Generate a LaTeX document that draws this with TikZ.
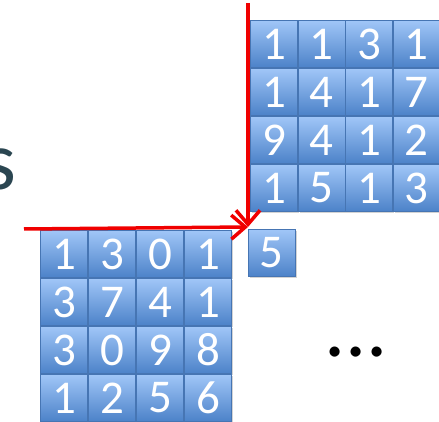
\documentclass[tikz,border=0pt]{standalone}
\usepackage{fontspec}
\setmainfont{Carlito}
\usetikzlibrary{arrows.meta,positioning,shadows}
\definecolor{celltop}{HTML}{A0C6F7}
\definecolor{cellbot}{HTML}{4C82C9}
\definecolor{cellrule}{HTML}{4675B3}
\definecolor{arrowred}{HTML}{F00000}
\definecolor{titleink}{HTML}{2B4651}

\begin{document}
\begin{tikzpicture}[
  x=1pt, y=-1pt,
  cell/.style={draw=cellrule, line width=0.8pt, top color=celltop, bottom color=cellbot,
               minimum size=47pt, inner sep=0pt, text=white,
               font=\fontsize{47}{47}\selectfont,
               drop shadow={shadow xshift=1.5pt, shadow yshift=-1.5pt, opacity=0.35}},
  redarr/.style={draw=arrowred, line width=3.5pt, -{Straight Barb[length=14pt, width=24pt, line width=3.5pt]}}
]
\useasboundingbox (0,0) rectangle (439,422);

% partial title letter and ellipsis
\node[anchor=base east, inner sep=0pt, text=titleink, font=\fontsize{84}{84}\selectfont] (title) at (17,190) {s};
\node[inner sep=0pt, font=\fontsize{84}{84}\selectfont] (dots) at (356,352) {...};

% kernel (top right)
\foreach \row [count=\i from 0] in {{1,1,3,1},{1,4,1,7},{9,4,1,2},{1,5,1,3}}
  \foreach \v [count=\j from 0] in \row
    \node[cell] (k-\i-\j) at (274+47.5*\j, 44+48*\i) {\v};

% image (bottom left)
\foreach \row [count=\i from 0] in {{1,3,0,1},{3,7,4,1},{3,0,9,8},{1,2,5,6}}
  \foreach \v [count=\j from 0] in \row
    \node[cell] (m-\i-\j) at (64+48*\j, 254+48*\i) {\v};

% result
\node[cell] (out) at (271.5,253) {5};

\coordinate (vtop) at (248,3);
\coordinate (hleft) at (24,229);
\coordinate (tip) at (248,227);
\draw[redarr] (vtop) -- (tip);
\draw[redarr] (hleft) -- (tip);
\end{tikzpicture}
\end{document}
